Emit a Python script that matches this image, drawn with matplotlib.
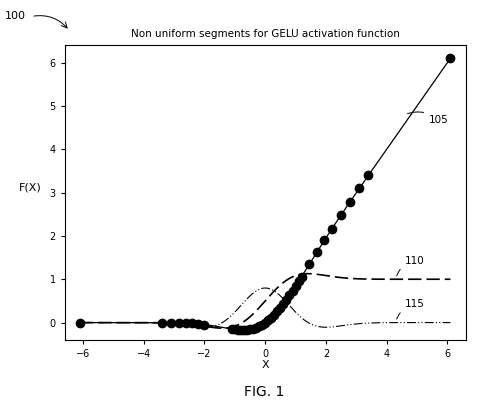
import math
import numpy as np
import matplotlib.pyplot as plt

# segment break points
seg_x = [-6.1, -3.4, -3.1, -2.85, -2.6, -2.4, -2.2, -2.0,
         -1.1, -1.0, -0.9, -0.8, -0.7, -0.6, -0.5, -0.4, -0.3, -0.2, -0.1,
         0.0, 0.1, 0.2, 0.3, 0.4, 0.5, 0.6, 0.7, 0.8, 0.9, 1.0, 1.1,
         1.2, 1.45, 1.7, 1.95, 2.2, 2.5, 2.8, 3.1, 3.4, 6.1]
x_ticks = [-6, -4, -2, 0, 2, 4, 6]
y_ticks = [0, 1, 2, 3, 4, 5, 6]

erf = np.vectorize(math.erf)


def gelu(x):
    return 0.5 * x * (1 + erf(x / math.sqrt(2)))


def pdf(x):
    return np.exp(-x ** 2 / 2) / math.sqrt(2 * math.pi)


x = np.linspace(-6.1, 6.1, 600)
d1 = 0.5 * (1 + erf(x / math.sqrt(2))) + x * pdf(x)
d2 = pdf(x) * (2 - x ** 2)

fig = plt.figure(figsize=(4.8, 4.12), dpi=100)
ax = fig.add_axes([0.135, 0.175, 0.835, 0.715])
ax.plot(x, gelu(x), color="black", lw=0.9)
ax.plot(x, d1, color="black", lw=1.2, ls=(0, (8, 3)))
ax.plot(x, d2, color="black", lw=0.8, ls=(0, (8, 2, 1, 2, 1, 2)))
sx = np.array(seg_x)
ax.plot(sx, gelu(sx), "o", color="black", ms=6)

ax.set_xlim(-6.6, 6.6)
ax.set_ylim(-0.4, 6.4)
ax.set_xticks(x_ticks)
ax.set_yticks(y_ticks)
ax.tick_params(labelsize=7, direction="out", length=3)
ax.set_xlabel("X", fontsize=8, labelpad=1)
ax.set_ylabel("F(X)", fontsize=8, rotation=0, labelpad=14)
ax.set_title("Non uniform segments for GELU activation function", fontsize=7.5)

ax.annotate("105", xy=(4.6, 4.8), xytext=(5.4, 4.6), fontsize=7.5,
            arrowprops=dict(arrowstyle="-", color="black", lw=0.7,
                            connectionstyle="arc3,rad=0.3"))
ax.annotate("110", xy=(4.3, 1.02), xytext=(4.6, 1.35), fontsize=7.5,
            arrowprops=dict(arrowstyle="-", color="black", lw=0.7,
                            connectionstyle="arc3,rad=0.3"))
ax.annotate("115", xy=(4.3, 0.02), xytext=(4.6, 0.35), fontsize=7.5,
            arrowprops=dict(arrowstyle="-", color="black", lw=0.7,
                            connectionstyle="arc3,rad=0.3"))

fig.text(0.01, 0.955, "100", fontsize=8)
fig.add_artist(plt.Annotation("", xy=(0.145, 0.925), xytext=(0.065, 0.96),
                              xycoords="figure fraction",
                              arrowprops=dict(arrowstyle="->", lw=0.7,
                                              connectionstyle="arc3,rad=-0.3")))
fig.text(0.55, 0.04, "FIG. 1", fontsize=10, ha="center")
fig.savefig("out.png", dpi=100)
